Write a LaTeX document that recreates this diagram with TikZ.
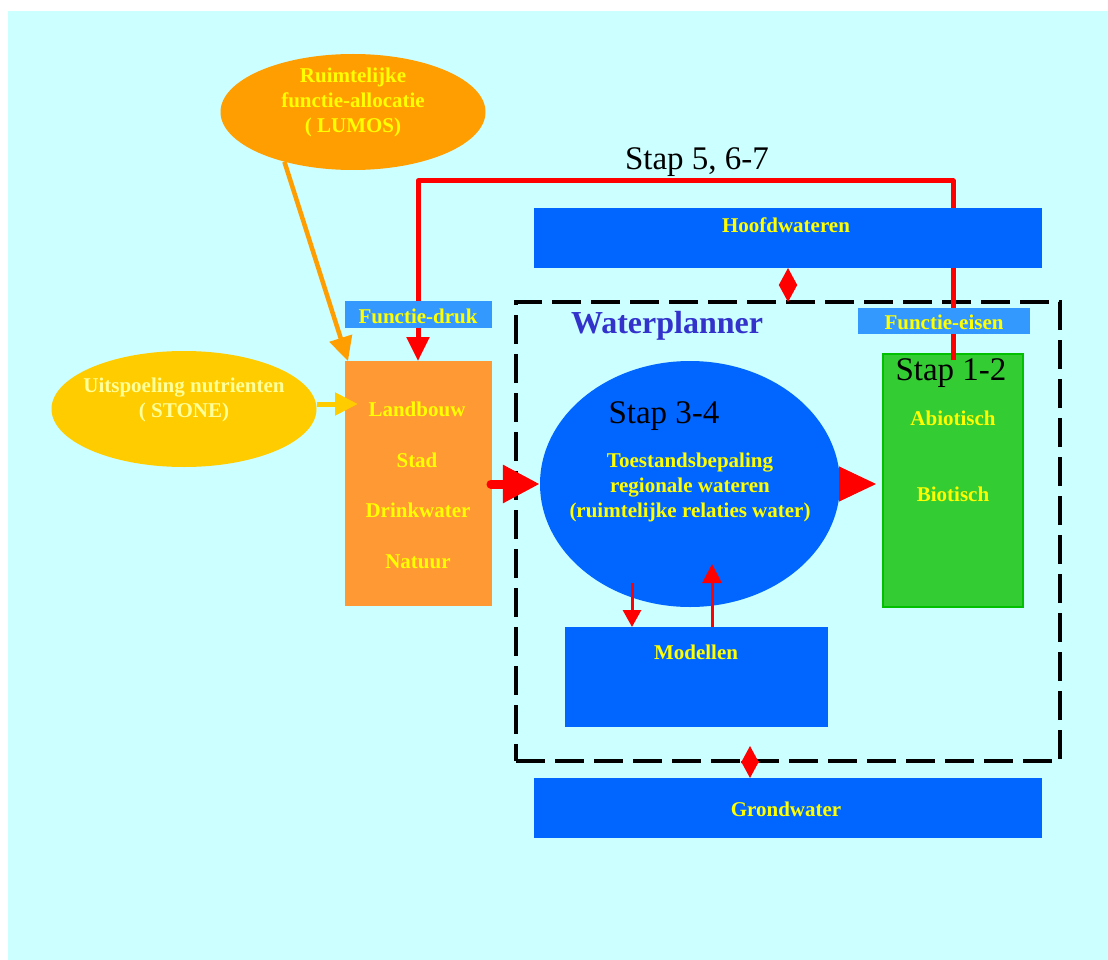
\documentclass[tikz,border=0pt]{standalone}
\usepackage{fontspec}
\setmainfont{Liberation Serif}
\usetikzlibrary{arrows.meta,shapes.geometric}
\definecolor{bgcyan}{HTML}{CCFFFF}
\definecolor{wblue}{HTML}{0066FF}
\definecolor{lblue}{HTML}{3399FF}
\definecolor{forange}{HTML}{FF9933}
\definecolor{lorange}{HTML}{FF9E00}
\definecolor{sgold}{HTML}{FFCC00}
\definecolor{wgreen}{HTML}{33CC33}
\definecolor{wgreenb}{HTML}{00C000}
\definecolor{wyellow}{HTML}{FFFF00}
\definecolor{pyellow}{HTML}{FFFF99}
\definecolor{wpurple}{HTML}{3333CC}
\definecolor{wred}{HTML}{FF0000}
\tikzset{
  boxnw/.style={inner sep=0pt, outer sep=0pt, anchor=north west, draw=none},
  ytxt/.style={text=wyellow, font=\bfseries\fontsize{21}{25}\selectfont, inner sep=0pt, align=center},
  ybase/.style={ytxt, anchor=base},
  staptxt/.style={text=black, font=\fontsize{33}{36}\selectfont, inner sep=0pt, anchor=base},
  dblarrow/.style={wred, line width=1.5pt, {Triangle[length=17pt,width=18pt]}-{Triangle[length=17pt,width=18pt]}},
}
\begin{document}
\begin{tikzpicture}[x=1pt,y=-1pt]
\useasboundingbox (0,0) rectangle (1108,960);
\fill[bgcyan] (8,11) rectangle (1108,960);

% ellipses
\node[ellipse, fill=lorange, inner sep=0pt, minimum width=265pt, minimum height=116pt] (lumos) at (353,112) {};
\node[ytxt] (lumostxt) at (353,102) {Ruimtelijke\\functie-allocatie\\( LUMOS)};
\node[ellipse, fill=sgold, inner sep=0pt, minimum width=265pt, minimum height=116pt] (stone) at (184,409) {};
\node[ytxt, text=pyellow] (stonetxt) at (184,400) {Uitspoeling nutrienten\\( STONE)};

% boxes
\node[boxnw, fill=forange, minimum width=147pt, minimum height=245pt] (func) at (345,361) {};
\node[boxnw, fill=wgreen, draw=wgreenb, line width=1.5pt, minimum width=140pt, minimum height=253pt] (green) at (883,354) {};
\node[boxnw, draw=black, line width=4pt, dash pattern=on 29pt off 10pt, minimum width=544pt, minimum height=459pt] (wp) at (516,302) {};

% red feedback loop (Stap 5, 6-7)
\coordinate (loopR) at (953,360);
\coordinate (loopL) at (418,181);
\draw[wred, line width=5pt, line join=round, -{Triangle[length=24pt,width=22pt]}] (loopR) |- (loopL) -- (loopL |- func.north);

\node[boxnw, fill=wblue, minimum width=508pt, minimum height=60pt] (hoofd) at (534,208) {};
\node[boxnw, fill=lblue, minimum width=147pt, minimum height=27pt] (fdruk) at (345,301) {};
\node[boxnw, fill=lblue, minimum width=172pt, minimum height=26pt] (feisen) at (858,308) {};
\node[ellipse, fill=wblue, inner sep=0pt, minimum width=300pt, minimum height=246pt] (toest) at (690,484) {};
\node[boxnw, fill=wblue, minimum width=263pt, minimum height=100pt] (modellen) at (565,627) {};
\node[boxnw, fill=wblue, minimum width=508pt, minimum height=60pt] (grond) at (534,778) {};

% texts
\node[staptxt] (stap567) at (697,170) {Stap 5, 6-7};
\node[staptxt] (stap12) at (951,380) {Stap 1-2};
\node[staptxt] (stap34) at (664,423) {Stap 3-4};
\node[anchor=base, inner sep=0pt, text=wpurple, font=\bfseries\fontsize{32}{36}\selectfont] (wptxt) at (667,333) {Waterplanner};
\node[ybase] (hoofdtxt) at (786,233) {Hoofdwateren};
\node[ybase] (fdruktxt) at (418,323) {Functie-druk};
\node[ybase] (feisentxt) at (944,329) {Functie-eisen};
\node[ybase] (landtxt) at (417,416) {Landbouw};
\node[ybase] (stadtxt) at (417,467) {Stad};
\node[ybase] (drinktxt) at (418,517) {Drinkwater};
\node[ybase] (natuurtxt) at (418,568) {Natuur};
\node[ybase] (abiotxt) at (953,425) {Abiotisch};
\node[ybase] (biotxt) at (953,501) {Biotisch};
\node[ytxt] (toesttxt) at (690,487) {Toestandsbepaling\\regionale wateren\\(ruimtelijke relaties water)};
\node[ybase] (modtxt) at (696,659) {Modellen};
\node[ybase] (grondtxt) at (786,816) {Grondwater};

% input arrows
\draw[lorange, line width=4.5pt, -{Triangle[length=24pt,width=23pt]}] (lumos.216) -- ([xshift=3pt]func.north west);
\coordinate (stip) at (358,404);
\draw[sgold, line width=5pt, -{Triangle[length=23pt,width=22pt]}] ([yshift=5pt]stone.east) -- ([yshift=5pt]stone.east -| stip);

% red arrows
\draw[wred, line width=9pt, line cap=round, -{Triangle[length=37pt,width=36pt]}] ([xshift=-1pt]func.east |- toest.west) -- (toest.west);
\draw[wred, line width=1pt, -{Triangle[length=37pt,width=35pt]}] (toest.east) -- ([xshift=-7pt]green.west |- toest.east);
\coordinate (dstart) at (632,583);
\draw[wred, line width=3pt, -{Triangle[length=17pt,width=18pt]}] (dstart) -- (dstart |- modellen.north);
\coordinate (uend) at (712,564);
\draw[wred, line width=3pt, -{Triangle[length=19pt,width=19pt]}] (uend |- modellen.north) -- (uend);
\draw[dblarrow] (hoofd.south) -- (hoofd.south |- wp.north);
\coordinate (gtop) at (750,746);
\draw[dblarrow] (gtop) -- (gtop |- grond.north);
\end{tikzpicture}
\end{document}
